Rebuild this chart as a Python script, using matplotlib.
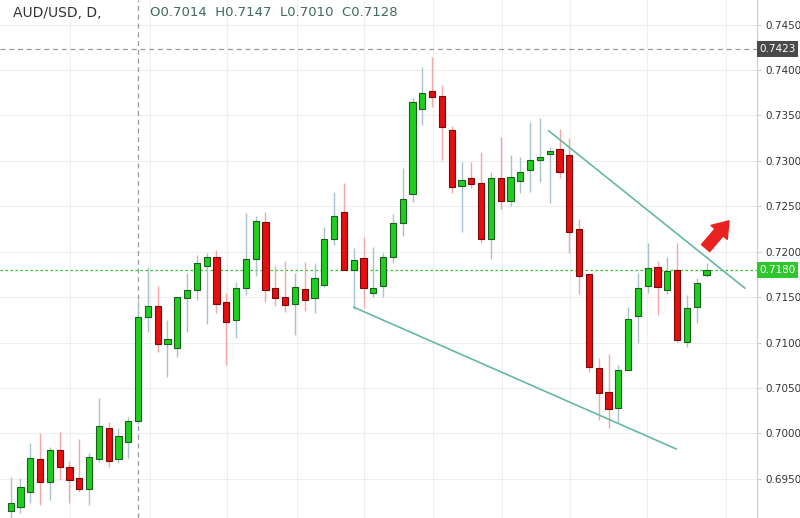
import matplotlib
matplotlib.use("Agg")
import matplotlib.pyplot as plt
import numpy as np

opens  = [0.6915,0.6919,0.6936,0.6972,0.6947,0.6982,0.6963,0.6951,0.6939,0.6972,0.7006,0.6972,0.6991,0.7014,0.7128,0.7140,0.7098,0.7094,0.7149,0.7158,0.7184,0.7194,0.7145,0.7125,0.7160,0.7192,0.7233,0.7160,0.7150,0.7143,0.7159,0.7149,0.7163,0.7214,0.7244,0.7180,0.7193,0.7155,0.7162,0.7194,0.7232,0.7264,0.7357,0.7377,0.7371,0.7334,0.7272,0.7281,0.7276,0.7214,0.7281,0.7256,0.7278,0.7290,0.7301,0.7308,0.7313,0.7306,0.7225,0.7176,0.7072,0.7046,0.7028,0.7070,0.7129,0.7162,0.7183,0.7158,0.7180,0.7101,0.7139,0.7174]
highs  = [0.6952,0.6951,0.6989,0.7000,0.6985,0.7002,0.6970,0.6994,0.6979,0.7039,0.7013,0.7006,0.7018,0.7147,0.7183,0.7162,0.7125,0.7150,0.7177,0.7196,0.7199,0.7202,0.7155,0.7167,0.7243,0.7239,0.7244,0.7184,0.7190,0.7177,0.7189,0.7188,0.7227,0.7266,0.7276,0.7204,0.7216,0.7205,0.7199,0.7242,0.7292,0.7369,0.7403,0.7414,0.7383,0.7338,0.7299,0.7299,0.7310,0.7288,0.7326,0.7306,0.7304,0.7343,0.7347,0.7315,0.7335,0.7325,0.7236,0.7176,0.7083,0.7088,0.7075,0.7139,0.7177,0.7210,0.7190,0.7194,0.7210,0.7152,0.7171,0.7188]
lows   = [0.6905,0.6913,0.6924,0.6921,0.6927,0.6949,0.6924,0.6936,0.6921,0.6969,0.6963,0.6968,0.6973,0.7010,0.7112,0.7090,0.7062,0.7084,0.7112,0.7147,0.7121,0.7133,0.7075,0.7105,0.7152,0.7173,0.7145,0.7140,0.7134,0.7108,0.7135,0.7133,0.7161,0.7207,0.7180,0.7137,0.7138,0.7150,0.7150,0.7188,0.7217,0.7255,0.7340,0.7359,0.7301,0.7265,0.7222,0.7270,0.7210,0.7192,0.7247,0.7250,0.7265,0.7266,0.7277,0.7254,0.7281,0.7199,0.7154,0.7068,0.7015,0.7006,0.7012,0.7070,0.7100,0.7155,0.7130,0.7154,0.7101,0.7095,0.7122,0.7172]
closes = [0.6923,0.6941,0.6973,0.6947,0.6982,0.6963,0.6949,0.6939,0.6974,0.7008,0.6970,0.6997,0.7014,0.7128,0.7140,0.7098,0.7104,0.7150,0.7158,0.7188,0.7194,0.7143,0.7123,0.7160,0.7192,0.7234,0.7158,0.7149,0.7141,0.7161,0.7147,0.7171,0.7214,0.7239,0.7180,0.7191,0.7160,0.7160,0.7194,0.7232,0.7258,0.7365,0.7375,0.7370,0.7337,0.7271,0.7279,0.7275,0.7214,0.7281,0.7256,0.7282,0.7288,0.7301,0.7304,0.7311,0.7288,0.7222,0.7173,0.7073,0.7044,0.7027,0.7070,0.7126,0.7160,0.7182,0.7161,0.7179,0.7103,0.7138,0.7166,0.7180]

lower_line_x = [35.0, 67.9]
lower_line_y = [0.7139, 0.6983]
upper_line_x = [54.9, 74.9]
upper_line_y = [0.7333, 0.7160]
price_ticks = [0.6950,0.7000,0.7050,0.7100,0.7150,0.7200,0.7250,0.7300,0.7350,0.7400,0.7450]
vgrid_idx = [6.1, 14.2, 22.1, 29.2, 36.0, 43.1, 50.1, 57.1, 64.9, 73.0]
last_price = 0.7180
cross_price = 0.7423
cross_idx = 13

fig = plt.figure(figsize=(8, 5.18), dpi=100)
ax = fig.add_axes([0, 0, 757/800, 1])
ax.set_xlim(-1.09, 76.15)
ax.set_ylim(0.6907, 0.7477)

for p in price_ticks:
    ax.axhline(p, color='#eeeeee', lw=0.8, zorder=0)
for v in vgrid_idx:
    ax.axvline(v, color='#eeeeee', lw=0.8, zorder=0)

w = 0.64
for i, (o, h, l, c) in enumerate(zip(opens, highs, lows, closes)):
    up = c >= o
    wick = '#a8c3cc' if up else '#f2a8a8'
    ax.vlines(i, l, h, color=wick, lw=1, zorder=2)
    ax.bar(i, abs(c - o) if abs(c-o) > 0.00003 else 0.00005, bottom=min(o, c), width=w,
           color='#1fcf1f' if up else '#e50f0f', edgecolor='#1b5e1b' if up else '#7a0a0a',
           lw=0.8, zorder=3)

ax.plot(lower_line_x, lower_line_y, color='#66b8a6', lw=1.2, zorder=4)
ax.plot(upper_line_x, upper_line_y, color='#66b8a6', lw=1.2, zorder=4)

ax.axhline(last_price, color='#2ec82e', lw=0.9, ls=(0, (2, 2)), zorder=1)
ax.axhline(cross_price, color='#999999', lw=0.9, ls=(0, (4, 3)), zorder=1)
ax.axvline(cross_idx, color='#999999', lw=0.9, ls=(0, (4, 3)), zorder=1)

ax.annotate('', xy=(73.3, 0.7234), xytext=(70.9, 0.7204),
            arrowprops=dict(arrowstyle='simple,head_width=1.4,head_length=1.0,tail_width=0.7',
                            color='#e8231f', mutation_scale=11, shrinkA=0, shrinkB=0))

ax.set_xticks([])
ax.yaxis.tick_right()
ax.set_yticks(price_ticks)
ax.set_yticklabels([f'{p:.4f}' for p in price_ticks], fontsize=7.5, color='#333333')
ax.tick_params(axis='y', length=3, color='#cccccc', pad=3)
for s in ['top', 'left', 'bottom']:
    ax.spines[s].set_visible(False)
ax.spines['right'].set_color('#cccccc')

for p, bg in [(last_price, '#2ec82e'), (cross_price, '#4a4a4a')]:
    ax.text(1.003, p, f'{p:.4f}', transform=ax.get_yaxis_transform(), fontsize=7.5,
            color='white', va='center', ha='left',
            bbox=dict(boxstyle='square,pad=0.25', fc=bg, ec='none'), clip_on=False)

fig.text(13/800, 1 - 13/518, 'AUD/USD, D,', fontsize=10, color='#333333', va='center', ha='left')
fig.text(150/800, 1 - 13/518, 'O0.7014  H0.7147  L0.7010  C0.7128', fontsize=9.5,
         color='#3d6b60', va='center', ha='left')

fig.savefig('out.png', dpi=100, facecolor='white')
